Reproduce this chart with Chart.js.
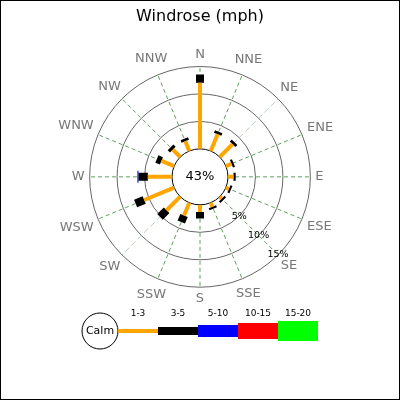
<!DOCTYPE html>
<html>
<head>
<meta charset="utf-8">
<script src="https://cdn.jsdelivr.net/npm/chart.js@4.4.0/dist/chart.umd.min.js"></script>
<style>
  html, body { margin: 0; padding: 0; background: #fff; }
  #wrap { width: 400px; height: 400px; }
</style>
</head>
<body>
<div id="wrap"><canvas id="rose"></canvas></div>
<script>
// Wind directions, clockwise from north
const directions = ['N', 'NNE', 'NE', 'ENE', 'E', 'ESE', 'SE', 'SSE',
                    'S', 'SSW', 'SW', 'WSW', 'W', 'WNW', 'NW', 'NNW'];
const calmPct = 43;
const speedBins = ['1-3', '3-5', '5-10', '10-15', '15-20'];

// Percent of time per direction, per speed bin (mph)
const bin1to3   = [12.0, 3.3, 3.3, 1.1, 1.0, 0.6, 0.5, 0.8, 1.3, 2.5, 3.5, 5.9, 4.4, 2.5, 1.9, 1.9];
const bin3to5   = [1.5, 0.5, 0.5, 0.4, 0.4, 0.4, 0.4, 0.4, 1.2, 1.3, 1.7, 1.7, 1.7, 0.9, 0.6, 0.5];
const bin5to10  = [0, 0, 0, 0, 0, 0, 0, 0, 0, 0, 0, 0, 0.2, 0, 0, 0];
const bin10to15 = [0, 0, 0, 0, 0, 0, 0, 0, 0, 0, 0, 0, 0, 0, 0, 0];
const bin15to20 = [0, 0, 0, 0, 0, 0, 0, 0, 0, 0, 0, 0, 0, 0, 0, 0];

const ringTicks = [5, 10, 15];

// styles
const binColors = ['#ffa500', '#000000', '#0000ff', '#ff0000', '#00ff00'];
const binWidths = [4, 8, 12, 16, 20];
const CALM_R = 5.1;   // calm circle radius in percent units
const RANGE = 25.5;

const bins = [bin1to3, bin3to5, bin5to10, bin10to15, bin15to20];

function polar(r, i) {
    const a = i * 2 * Math.PI / directions.length;
    return { x: r * Math.sin(a), y: r * Math.cos(a) };
}

// one line dataset per speed bin, segments broken by null points
const datasets = bins.map((vals, b) => {
    const pts = [];
    directions.forEach((d, i) => {
        let inner = CALM_R;
        for (let k = 0; k < b; k++) inner += bins[k][i];
        if (vals[i] > 0) {
            pts.push(polar(inner, i), polar(inner + vals[i], i), { x: 0, y: null });
        }
    });
    return {
        label: speedBins[b],
        data: pts,
        showLine: true,
        spanGaps: false,
        borderColor: binColors[b],
        borderWidth: binWidths[b],
        borderCapStyle: 'butt',
        pointRadius: 0,
        fill: false
    };
});

const roseGrid = {
    id: 'roseGrid',
    beforeDatasetsDraw(chart) {
        const { ctx, scales: { x, y } } = chart;
        const cx = x.getPixelForValue(0), cy = y.getPixelForValue(0);
        const rpx = v => x.getPixelForValue(v) - cx;
        const outer = rpx(CALM_R + ringTicks[ringTicks.length - 1]);
        const calm = rpx(CALM_R);
        ctx.save();
        // spokes
        ctx.lineWidth = 1;
        directions.forEach((d, i) => {
            const a = i * 2 * Math.PI / directions.length;
            // NE / SW spokes come out paler in the original
            const pale = d === 'NE' || d === 'SW';
            ctx.strokeStyle = pale ? '#b4d4b4' : '#5f9f5f';
            ctx.setLineDash(pale ? [6, 3] : [4, 3]);
            ctx.beginPath();
            ctx.moveTo(cx + calm * Math.sin(a), cy - calm * Math.cos(a));
            ctx.lineTo(cx + outer * Math.sin(a), cy - outer * Math.cos(a));
            ctx.stroke();
        });
        ctx.setLineDash([]);
        // rings
        ctx.strokeStyle = '#666';
        ringTicks.forEach(t => {
            ctx.beginPath();
            ctx.arc(cx, cy, rpx(CALM_R + t), 0, 2 * Math.PI);
            ctx.stroke();
        });
        // calm circle
        ctx.strokeStyle = '#000';
        ctx.beginPath();
        ctx.arc(cx, cy, calm, 0, 2 * Math.PI);
        ctx.stroke();
        ctx.restore();
    },
    afterDraw(chart) {
        const { ctx, scales: { x, y } } = chart;
        const cx = x.getPixelForValue(0), cy = y.getPixelForValue(0);
        const rpx = v => x.getPixelForValue(v) - cx;
        const outer = rpx(CALM_R + ringTicks[ringTicks.length - 1]);
        ctx.save();
        ctx.textAlign = 'center';
        ctx.textBaseline = 'middle';
        // direction labels, pushed out by half the text box
        ctx.fillStyle = '#777';
        ctx.font = '13px "DejaVu Sans"';
        directions.forEach((d, i) => {
            const a = i * 2 * Math.PI / directions.length;
            const hw = ctx.measureText(d).width / 2;
            const r = outer + 5 + hw * Math.abs(Math.sin(a)) + 6.5 * Math.abs(Math.cos(a));
            ctx.fillText(d, cx + r * Math.sin(a), cy - r * Math.cos(a));
        });
        // ring labels along SE
        ctx.fillStyle = '#000';
        ctx.font = '9.5px "DejaVu Sans"';
        ringTicks.forEach(t => {
            const p = polar(CALM_R + t, 6);
            ctx.fillText(t + '%', x.getPixelForValue(p.x), y.getPixelForValue(p.y));
        });
        // calm percentage
        ctx.font = '13px "DejaVu Sans"';
        ctx.fillText(calmPct + '%', cx, cy);

        // legend
        const ly = 331, lx = 118, segW = 40;
        ctx.strokeStyle = '#000';
        ctx.lineWidth = 1;
        ctx.beginPath();
        ctx.arc(100, ly, 18, 0, 2 * Math.PI);
        ctx.stroke();
        ctx.font = '11px "DejaVu Sans"';
        ctx.fillText('Calm', 100, ly);
        ctx.font = '9px "DejaVu Sans"';
        speedBins.forEach((s, b) => {
            ctx.fillStyle = binColors[b];
            ctx.fillRect(lx + b * segW, ly - binWidths[b] / 2, segW, binWidths[b]);
            ctx.fillStyle = '#000';
            ctx.fillText(s, lx + b * segW + segW / 2, 314);
        });

        // frame
        ctx.strokeStyle = '#000';
        ctx.strokeRect(0.5, 0.5, 399, 399);
        ctx.restore();
    }
};

Chart.defaults.font.family = '"DejaVu Sans", sans-serif';

new Chart(document.getElementById('rose'), {
    type: 'scatter',
    data: { datasets },
    options: {
        responsive: true,
        maintainAspectRatio: false,
        animation: false,
        layout: { padding: { left: 60, right: 60, top: 0, bottom: 83 } },
        plugins: {
            legend: { display: false },
            tooltip: { enabled: false },
            title: {
                display: true,
                text: 'Windrose (mph)',
                color: '#000',
                font: { size: 16, weight: 'normal' },
                padding: { top: 7, bottom: 10.5 }
            }
        },
        scales: {
            x: { type: 'linear', min: -RANGE, max: RANGE, display: false },
            y: { type: 'linear', min: -RANGE, max: RANGE, display: false }
        }
    },
    plugins: [roseGrid]
});
</script>
</body>
</html>
